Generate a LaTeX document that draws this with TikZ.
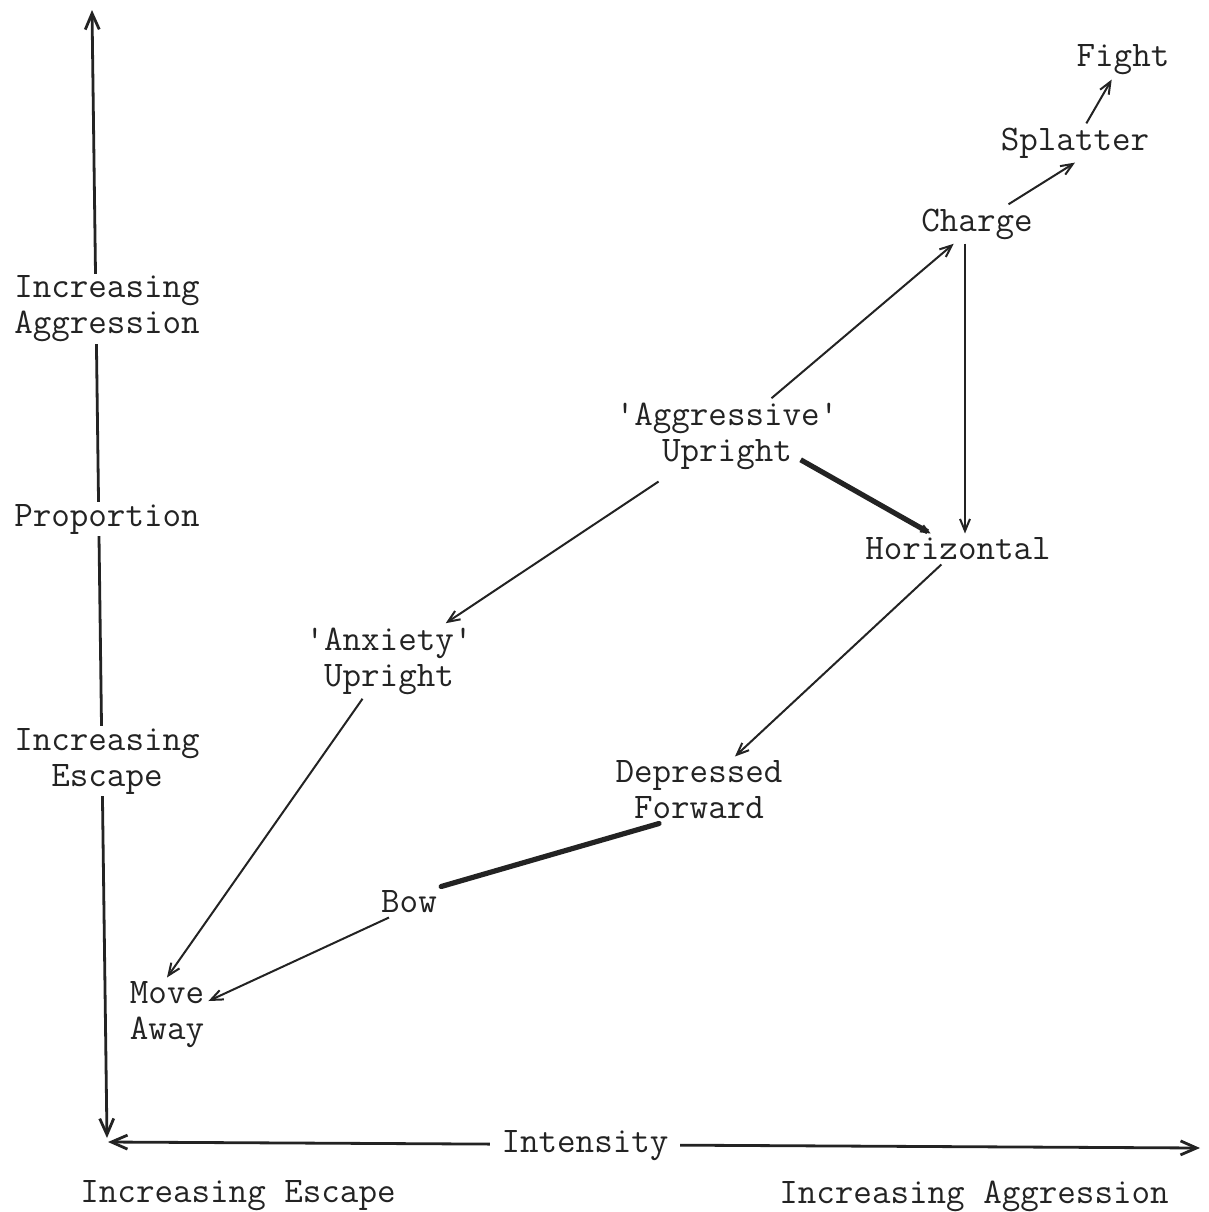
\documentclass[tikz,border=0pt]{standalone}
\usepackage{fontspec}
\usepackage{tikz}
\usetikzlibrary{arrows.meta, positioning, calc}
\definecolor{ink}{RGB}{35,35,35}

\begin{document}
\begin{tikzpicture}[x=0.5pt, y=-0.5pt,
      lbl/.style={font=\ttfamily\fontsize{18}{18}\selectfont, text=ink, align=center, inner sep=2pt},
      axlbl/.style={lbl, fill=white, inner sep=1pt},
      arr/.style={-{Straight Barb[length=6pt, width=5pt]}, line width=1pt, ink},
      heavy/.style={-{Straight Barb[length=4pt, width=3.5pt, line width=1pt]}, line width=2.6pt, ink},
      axis/.style={{Straight Barb[length=8pt, width=7pt]}-{Straight Barb[length=8pt, width=7pt]}, line width=1.4pt, ink}]
    \useasboundingbox (0,0) rectangle (1209,1212);
    % axes
    \coordinate (ytop) at (92,10); \coordinate (ybot) at (107,1138);
    \coordinate (xleft) at (108,1142); \coordinate (xright) at (1200,1148);
    \draw[axis] (ybot) -- (ytop);
    \draw[axis] (xleft) -- (xright);
    \node[axlbl] (yagg) at (107,309) {Increasing\\Aggression};
    \node[axlbl] (yprop) at (107,519) {Proportion};
    \node[axlbl] (yesc) at (107,761) {Increasing\\Escape};
    \node[axlbl, inner xsep=6pt] (xint) at (585,1146) {Intensity};
    \node[lbl] (xesc) at (238,1196) {Increasing Escape};
    \node[lbl] (xagg) at (974,1196) {Increasing Aggression};
    % postures
    \node[lbl] (fight) at (1123,60) {Fight};
    \node[lbl] (splat) at (1075,143) {Splatter};
    \node[lbl] (charge) at (977,224) {Charge};
    \node[lbl] (aggr) at (727,436) {'Aggressive'\\Upright};
    \node[lbl] (horiz) at (958,549) {Horizontal};
    \node[lbl] (anx) at (389,661) {'Anxiety'\\Upright};
    \node[lbl] (dep) at (699,790) {Depressed\\Forward};
    \node[lbl] (bow) at (409,902) {Bow};
    \node[lbl] (move) at (167,1015) {Move\\Away};
    % transitions
    \draw[arr] (splat) -- (fight);
    \draw[arr] (charge) -- (splat.south);
    \draw[arr] (aggr) -- (charge);
    \draw[arr] ([xshift=-6pt]charge.south) -- ([xshift=-6pt]charge.south |- horiz.north);
    \draw[heavy] ([xshift=-21pt, yshift=7pt]aggr.south east) -- (horiz);
    \draw[arr, shorten <=7pt] (aggr) -- (anx);
    \draw[arr] (horiz) -- (dep);
    \draw[arr] (anx) -- (move.north);
    \draw[line width=2.6pt, ink, line cap=round] ([xshift=-20pt]dep.south) -- (bow.north east);
    \draw[arr] ([xshift=-10pt]bow.south) -- ([yshift=7pt]move.east);
  \end{tikzpicture}
\end{document}
